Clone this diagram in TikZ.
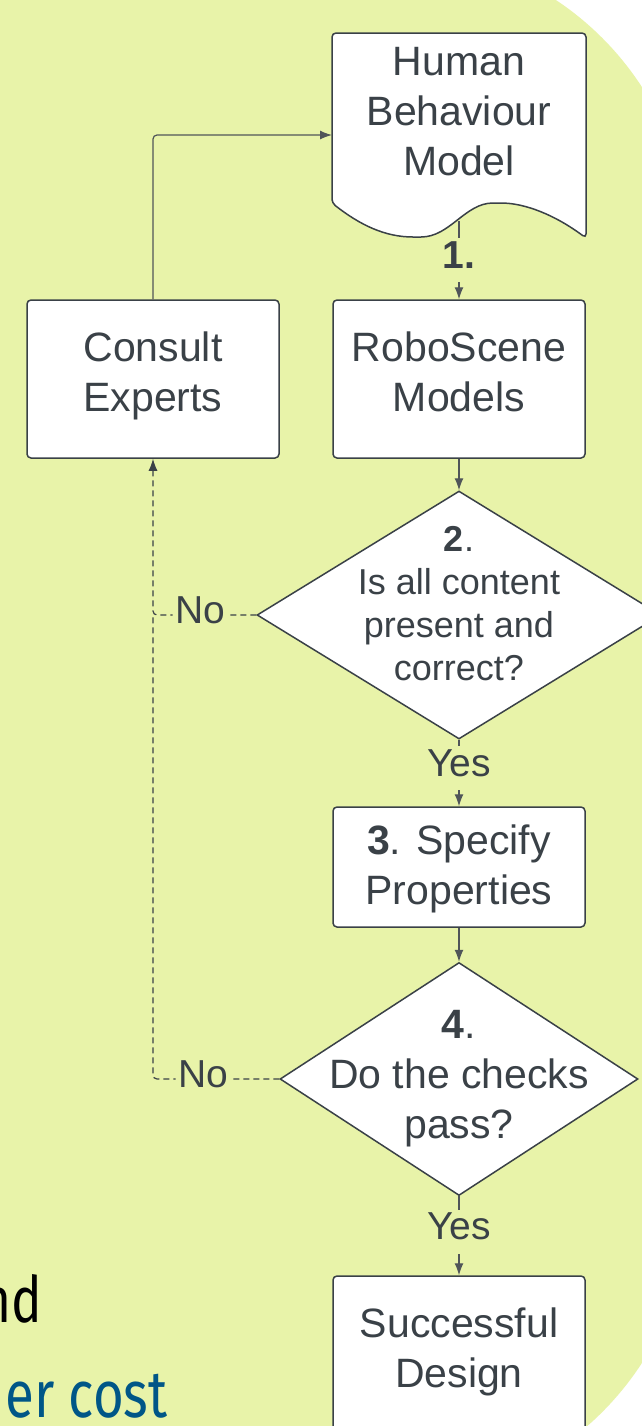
\documentclass[tikz,border=0pt]{standalone}
\usepackage{fontspec}
\setmainfont{Liberation Sans}
\newfontfamily\slidefont{Fira Sans}
\usetikzlibrary{shapes.geometric, arrows.meta}

\definecolor{slidebg}{RGB}{232,243,169}
\definecolor{inkc}{RGB}{58,65,71}
\definecolor{wirec}{RGB}{80,85,89}
\definecolor{costblue}{RGB}{0,86,135}

\tikzset{
  stagetext/.style={align=center, text=inkc, inner sep=0pt, font=\fontsize{20.5}{25}\selectfont},
  stagebox/.style={stagetext, draw=inkc, line width=0.75pt, fill=white, rounded corners=2pt,
    minimum width=126pt, minimum height=79pt, text depth=7pt},
  decision/.style={diamond, draw=inkc, line width=0.75pt, fill=white, inner sep=0pt},
  flow/.style={draw=wirec, line width=0.6pt, -{Latex[length=6pt,width=4.5pt]}},
  backflow/.style={flow, draw=inkc, dash pattern=on 3pt off 2pt},
  wirelabel/.style={fill=slidebg, text=inkc, inner xsep=1.5pt, inner ysep=1pt,
    font=\fontsize{19.5}{22}\selectfont, text height=14pt, text depth=6pt}
}

\begin{document}
\begin{tikzpicture}[x=0.5pt, y=-0.5pt]
        \useasboundingbox (0,0) rectangle (642,1426);
        \fill[white] (0,0) rectangle (642,1426);
        \begin{scope}
                \clip (0,0) rectangle (642,1426);
                \fill[slidebg, rounded corners=150pt] (-1000,-50) rectangle (690,1500);
                \node[anchor=base east, inner sep=0pt, font=\slidefont\fontsize{32}{38}\selectfont] (slidend) at (43,1322) {\scalebox{0.8}[1]{nd}};
                \node[anchor=base east, inner sep=0pt, text=costblue, font=\slidefont\fontsize{33}{38}\selectfont] (slidecost) at (168,1417) {\scalebox{0.8}[1]{er cost}};
        \end{scope}

        % document shape
        \draw[draw=inkc, line width=0.75pt, fill=white, rounded corners=2pt] (332,203) -- (332,33) -- (586,33) -- (586,238)
                .. controls (555,215) and (525,203) .. (497,203)
                .. controls (465,203) and (450,237) .. (417,237)
                .. controls (385,237) and (360,225) .. (332,203) -- cycle;
        \node[stagetext] (hbm) at (459,112) {Human\\Behaviour\\Model};
        \coordinate (hbmin) at (332,135);
        \coordinate (hbmout) at (459,221);

        \node[stagebox] (rsm) at (459,379) {RoboScene\\Models};
        \node[stagebox] (ce) at (153,379) {Consult\\Experts};
        \node[decision, minimum width=202pt, minimum height=124pt] (d2) at (459,615) {};
        \node[stagetext, font=\fontsize{18}{21.5}\selectfont] (d2text) at (459,604) {\textbf{2}.\\Is all content\\present and\\correct?};
        \node[stagebox, minimum height=60pt, text depth=2pt] (spec) at (459,867) {\textbf{3}. Specify\\Properties};
        \node[decision, minimum width=179pt, minimum height=116.5pt] (d4) at (459,1079) {};
        \node[stagetext] (d4text) at (459,1079) {\textbf{4}.\\Do the checks\\pass?};
        \node[stagebox] (sd) at (459,1355) {Successful\\Design};

        \draw[flow] (hbmout) -- node[wirelabel, font=\bfseries\fontsize{19.5}{22}\selectfont] {1.} (rsm);
        \draw[flow] (rsm) -- (d2);
        \draw[flow] (d2) -- node[wirelabel, pos=0.43] {Yes} (spec);
        \draw[flow] (spec) -- (d4);
        \draw[flow] (d4) -- node[wirelabel, pos=0.45] {Yes} (sd);
        \draw[backflow, rounded corners=2pt] (d2.west) -| node[wirelabel, pos=0.27] {No} (ce.south);
        \draw[backflow, -, rounded corners=2pt] (d4.west) -| node[wirelabel, pos=0.3] {No} (d2.west -| ce.south);
        \draw[flow, rounded corners=2pt] (ce.north) |- (hbmin);
\end{tikzpicture}
\end{document}
